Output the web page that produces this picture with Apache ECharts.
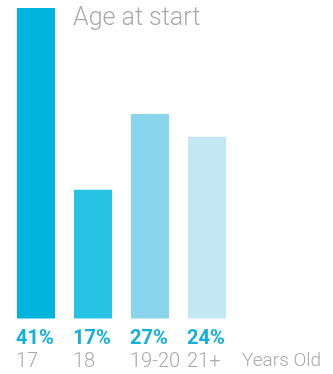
<!DOCTYPE html>
<html><head><meta charset="utf-8">
<script src="https://cdn.jsdelivr.net/npm/echarts@6/dist/echarts.min.js"></script>
<style>html,body{margin:0;padding:0;background:#fff}#c{width:333px;height:374px}</style>
</head><body><div id="c"></div>
<script>
const categories = ['17', '18', '19-20', '21+'];
const values = [41, 17, 27, 24];
const colors = ['#00b4de', '#26c3e4', '#88d5ec', '#c4e8f3'];
const titleText = 'Age at start';
const unitText = 'Years Old';

const chart = echarts.init(document.getElementById('c'));
chart.setOption({
  animation: false,
  title: [
    { text: titleText, left: 73, top: 6, padding: 0, textStyle: { fontFamily: 'Roboto', fontWeight: 300, fontSize: 25, color: '#aaaaaa' } },
    { text: unitText, left: 242, top: 352, padding: 0, textStyle: { fontFamily: 'Roboto', fontWeight: 300, fontSize: 19, color: '#aaaaaa' } }
  ],
  grid: { left: 7.5, width: 228, top: 8, bottom: 55.5 },
  xAxis: { type: 'category', data: categories, show: false },
  yAxis: { type: 'value', min: 0, max: 41, show: false },
  series: [{
    type: 'bar',
    barWidth: 38,
    data: values.map((v, i) => ({ value: v, itemStyle: { color: colors[i] } })),
    label: {
      show: true,
      position: [0, '100%'],
      offset: [-1, 9],
      align: 'left',
      verticalAlign: 'top',
      formatter: p => '{p|' + p.value + '%}\n{c|' + categories[p.dataIndex] + '}',
      rich: {
        p: { fontFamily: 'Roboto', fontWeight: 'bold', fontSize: 20, color: '#12b0db', lineHeight: 23 },
        c: { fontFamily: 'Roboto', fontWeight: 300, fontSize: 20, color: '#aaaaaa', lineHeight: 23 }
      }
    }
  }]
});
</script></body></html>
